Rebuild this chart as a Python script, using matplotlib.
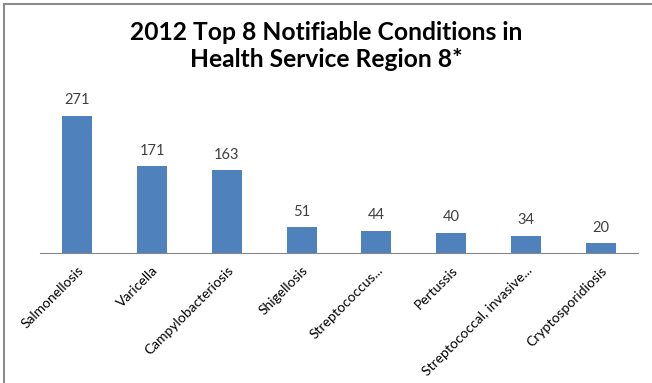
import matplotlib
matplotlib.use("Agg")
import matplotlib.pyplot as plt
from matplotlib.lines import Line2D

conditions = ["Salmonellosis", "Varicella", "Campylobacteriosis", "Shigellosis",
              "Streptococcus...", "Pertussis", "Streptococcal, invasive...",
              "Cryptosporidiosis"]
cases = [271, 171, 163, 51, 44, 40, 34, 20]

BAR = "#4F81BD"
TXT = "#404040"
FONT = ["Lato", "DejaVu Sans"]

fig = plt.figure(figsize=(6.52, 3.83), dpi=100)
ax = fig.add_axes([40 / 652, 130 / 383, 598 / 652, 152 / 383])

x = range(len(conditions))
bars = ax.bar(x, cases, width=0.4, color=BAR)
for b, v in zip(bars, cases):
    ax.annotate(str(v), (b.get_x() + b.get_width() / 2, v), xytext=(0, 6),
                textcoords="offset points", ha="center", va="bottom",
                fontsize=10.5, color=TXT, family=FONT)

ax.set_xlim(-0.5, len(conditions) - 0.5)
ax.set_ylim(0, 300)
ax.set_yticks([])
for s in ("left", "right", "top"):
    ax.spines[s].set_visible(False)
ax.spines["bottom"].set_color("#868686")
ax.set_xticks(list(x))
ax.set_xticklabels(conditions, rotation=45, ha="right", va="top",
                   rotation_mode="anchor", fontsize=10, color="black", family=FONT)
ax.tick_params(axis="x", length=0, pad=8)

fig.text(0.5, 1 - 21 / 383, "2012 Top 8 Notifiable Conditions in\nHealth Service Region 8*",
         ha="center", va="top", fontsize=17.7, fontweight="bold", family=FONT,
         linespacing=1.2, transform=fig.transFigure)
# frame lines (top and left) around the chart
fig.add_artist(Line2D([4 / 652, 1], [1 - 4 / 383, 1 - 4 / 383], color="#8c8c8c", lw=1.5,
                      transform=fig.transFigure))
fig.add_artist(Line2D([4 / 652, 4 / 652], [0, 1 - 4 / 383], color="#8c8c8c", lw=1.5,
                      transform=fig.transFigure))

fig.savefig("out.png", dpi=100)
